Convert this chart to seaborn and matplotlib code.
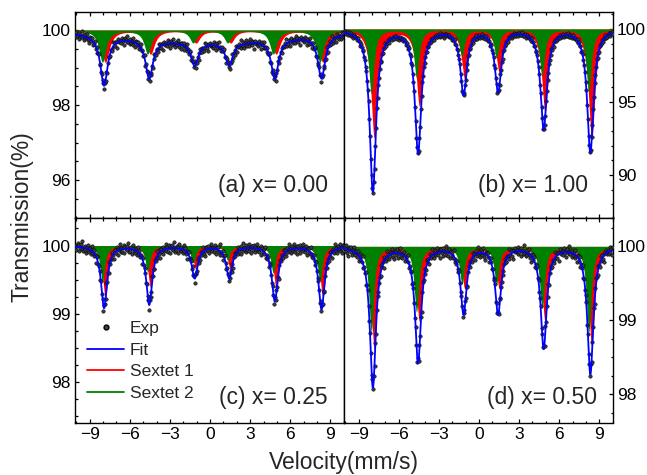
import numpy as np
import pandas as pd
import matplotlib
matplotlib.use("Agg")
import matplotlib.pyplot as plt
from matplotlib.lines import Line2D
from matplotlib.ticker import MultipleLocator
import seaborn as sns

sns.set_theme(style="ticks")
plt.rcParams["font.family"] = ["Liberation Sans", "DejaVu Sans"]

# ---------------- data ----------------
panel_labels = ["(a) x= 0.00", "(b) x= 1.00", "(c) x= 0.25", "(d) x= 0.50"]

# line positions (mm/s) of the six lines
fit_pos = [-7.93, -4.55, -1.15, 1.43, 4.84, 8.33]
s1_pos = [-7.83, -4.45, -1.05, 1.53, 4.94, 8.43]   # Sextet 1 (red)
s2_pos = [-8.05, -4.67, -1.27, 1.31, 4.72, 8.21]   # Sextet 2 (green)

# line depths (% transmission) per panel: a, b, c, d
fit_depth_a = [1.33, 1.04, 0.62, 0.62, 1.04, 1.15]
fit_depth_b = [11.1, 8.4, 4.4, 4.2, 6.8, 8.4]
fit_depth_c = [0.91, 0.86, 0.47, 0.47, 0.81, 0.93]
fit_depth_d = [1.90, 1.56, 0.90, 0.90, 1.37, 1.72]

s1_depth_a = [0.85, 0.63, 0.33, 0.33, 0.63, 0.85]
s1_depth_b = [7.4, 5.2, 3.4, 2.9, 5.6, 7.5]
s1_depth_c = [0.76, 0.61, 0.35, 0.35, 0.61, 0.76]
s1_depth_d = [1.37, 1.00, 0.56, 0.56, 1.00, 1.34]

s2_depth_a = [0.85, 0.63, 0.33, 0.33, 0.63, 0.85]
s2_depth_b = [4.4, 3.3, 1.8, 1.9, 3.1, 4.3]
s2_depth_c = [0.52, 0.38, 0.25, 0.21, 0.40, 0.52]
s2_depth_d = [1.15, 0.88, 0.50, 0.50, 0.83, 1.15]

# line half widths (mm/s): fit, sextet 1, sextet 2
hwhm_a = [0.33, 0.36, 0.32]
hwhm_b = [0.29, 0.29, 0.23]
hwhm_c = [0.27, 0.25, 0.21]
hwhm_d = [0.27, 0.27, 0.22]

# broad background component present only in (a)
broad_depth = [0.32, 0.0, 0.0, 0.0]
broad_sigma = 6.3

# scatter of experimental points about the fit (% transmission)
noise_amp = [0.075, 0.10, 0.05, 0.05]
residuals = [0.3, -0.8, 1.2, -0.2, 0.5, -1.4, 0.9, 0.1, -0.6, 1.7, -0.3, 0.4,
             -1.1, 0.8, -0.5, 0.2, 1.3, -0.9, 0.0, -1.6, 0.7, 0.6, -0.4, 1.0,
             -1.2, 0.3, -0.1, 1.5, -0.7, 0.4, -0.9, 0.2, 1.1, -1.3, 0.6, -0.2,
             0.9, -0.5, 1.8, -1.0, 0.1, -0.6, 0.7, -1.5, 0.4, 1.2, -0.3, -0.8,
             0.5, 0.0, -1.1, 1.4, -0.4, 0.8, -0.7, 0.3, -1.9, 0.6, 1.0, -0.2, 0.2]
res_shift = [0, 17, 33, 48]

ylims = [(95.0, 100.48), (87.1, 101.16), (97.41, 100.41), (97.62, 100.39)]
ymajor = [[96, 98, 100], [90, 95, 100], [98, 99, 100], [98, 99, 100]]
yminor = [0.5, 1.0, 0.25, 0.25]
xticks = [-9, -6, -3, 0, 3, 6, 9]

fit_depths = [fit_depth_a, fit_depth_b, fit_depth_c, fit_depth_d]
s1_depths = [s1_depth_a, s1_depth_b, s1_depth_c, s1_depth_d]
s2_depths = [s2_depth_a, s2_depth_b, s2_depth_c, s2_depth_d]
hwhms = [hwhm_a, hwhm_b, hwhm_c, hwhm_d]

v_exp = np.linspace(-10.1, 10.0, 360)     # spectrometer channels
v_fine = np.linspace(-10.1, 10.0, 1200)   # smooth curves


def sextet(v, pos, depth, w):
    out = np.zeros_like(v)
    for p, d in zip(pos, depth):
        out += d / (1.0 + ((v - p) / w) ** 2)
    return out


def fit_curve(v, i):
    broad = broad_depth[i] * np.exp(-v ** 2 / (2 * broad_sigma ** 2))
    return 100 - sextet(v, fit_pos, fit_depths[i], hwhms[i][0]) - broad


# ---------------- figure ----------------
fig = plt.figure(figsize=(6.47, 4.75), dpi=100)
L, R, T, B = 75 / 647, 612.7 / 647, 1 - 12 / 475, 1 - 422.5 / 475
M = 1 - 217.5 / 475
W = (R - L) / 2
rects = [(L, M, W, T - M), (L + W, M, W, T - M), (L, B, W, M - B), (L + W, B, W, M - B)]

red, green, blue = "#ff0000", "#008000", "#0000ff"
label_xy = [(0.94, 0.158), (0.907, 0.158), (0.94, 0.12), (0.94, 0.12)]

for i, rect in enumerate(rects):
    ax = fig.add_axes(rect)
    w_fit, w1, w2 = hwhms[i]
    curves = pd.DataFrame({
        "v": v_fine,
        "fit": fit_curve(v_fine, i),
        "s1": 100 - sextet(v_fine, s1_pos, s1_depths[i], w1),
        "s2": 100 - sextet(v_fine, s2_pos, s2_depths[i], w2),
    })
    res = np.resize(np.roll(residuals, res_shift[i]), v_exp.size)
    points = pd.DataFrame({"v": v_exp, "exp": fit_curve(v_exp, i) + noise_amp[i] * res})

    ax.fill_between(curves["v"], curves["s1"], 100, color=red, lw=0, zorder=1)
    ax.fill_between(curves["v"], curves["s2"], 100, color=green, lw=0, zorder=2)
    sns.scatterplot(data=points, x="v", y="exp", ax=ax, s=6, color="#404040",
                    edgecolor="black", linewidth=0.4, zorder=3, legend=False)
    sns.lineplot(data=curves, x="v", y="fit", ax=ax, color=blue, lw=1.3, zorder=4)

    ax.set_xlim(-10.1, 10.0)
    ax.set_ylim(*ylims[i])
    ax.set_xlabel("")
    ax.set_ylabel("")
    ax.set_xticks(xticks)
    ax.xaxis.set_minor_locator(MultipleLocator(1))
    ax.set_yticks(ymajor[i])
    ax.yaxis.set_minor_locator(MultipleLocator(yminor[i]))
    right = i % 2 == 1
    bottom = i >= 2
    ax.tick_params(which="both", direction="in", top=True, bottom=True,
                   left=not right, right=right, labelleft=not right,
                   labelright=right, labelbottom=bottom, labelsize=12.5,
                   colors="black", width=0.9)
    ax.tick_params(which="major", length=3.2, pad=3)
    ax.tick_params(which="minor", length=1.8)
    for sp in ax.spines.values():
        sp.set_linewidth(1.0)
        sp.set_color("black")
    ax.text(label_xy[i][0], label_xy[i][1], panel_labels[i], transform=ax.transAxes,
            ha="right", va="center", fontsize=16.5)

    if i == 2:
        handles = [Line2D([], [], ls="none", marker="o", ms=3.5, mfc="#404040", mec="black"),
                   Line2D([], [], color=blue, lw=1.3),
                   Line2D([], [], color=red, lw=1.3),
                   Line2D([], [], color=green, lw=1.3)]
        ax.legend(handles, ["Exp", "Fit", "Sextet 1", "Sextet 2"], loc="upper left",
                  bbox_to_anchor=(0.02, 0.53), frameon=False, fontsize=12.5,
                  handlelength=2.1, handletextpad=0.35, labelspacing=0.38,
                  borderaxespad=0)

fig.text(344 / 647, 1 - 463 / 475, "Velocity(mm/s)", ha="center", va="center", fontsize=16.5)
fig.text(22 / 647, 1 - 217 / 475, "Transmission(%)", ha="center", va="center",
         rotation=90, fontsize=16.5)

fig.savefig("out.png", dpi=100)
